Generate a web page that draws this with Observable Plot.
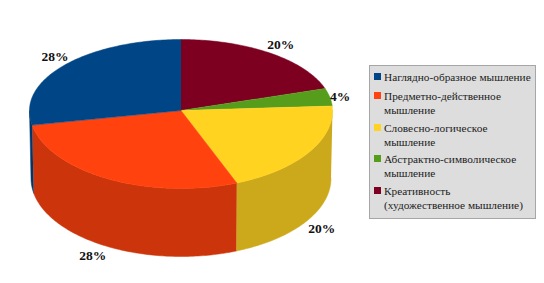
<!DOCTYPE html>
<html><head><meta charset="utf-8">
<script src="https://cdn.jsdelivr.net/npm/d3@7"></script>
<script src="https://cdn.jsdelivr.net/npm/@observablehq/plot@0.6"></script>
<style>
html,body{margin:0;padding:0;background:#fff;width:544px;height:283px;overflow:hidden}
#wrap{position:relative;width:544px;height:283px}
svg{display:block}
#legend{position:absolute;left:369px;top:65px;width:165px;height:152px;box-sizing:content-box;background:#dddddd;border:1px solid #a6a6a6;font:11.3px/14px "Liberation Serif",serif;color:#222}
#legend .it{position:absolute;left:14px;white-space:nowrap}
#legend i{position:absolute;left:-10px;top:3px;width:7px;height:7px}
</style></head><body><div id="wrap"></div>
<script>
// Chart values
const categories = ["Наглядно-образное мышление","Предметно-действенное мышление","Словесно-логическое мышление","Абстрактно-символическое мышление","Креативность (художественное мышление)"];
const legendLines = [["Наглядно-образное мышление"],["Предметно-действенное","мышление"],["Словесно-логическое","мышление"],["Абстрактно-символическое","мышление"],["Креативность","(художественное мышление)"]];
const values = [28,28,20,4,20];
const topColors = ["#004586","#ff420e","#ffd320","#579d1c","#7e0021"];
const wallColors = ["#00376b","#cc350b","#cca91a","#467e16","#650019"];
// clockwise from 12 o'clock, as drawn
const drawOrder = [4,3,2,1,0];
const labelReachX = [1.08,1.21,1.10,1.07,1.12];
const labelReachY = [1.19,1.13,1.19,1.07,1.15];

const upperTilt = 71/78, depth = 68/78;
const total = d3.sum(values);
function pt(a){
  const c = Math.cos(a), s = Math.sin(a);
  return {x:s, y:c*(c>0?upperTilt:1)};
}
const tops = [], walls = [], labels = [];
let acc = 0;
for (const i of drawOrder){
  const a0 = acc/total*2*Math.PI; acc += values[i]; const a1 = acc/total*2*Math.PI;
  const n = Math.max(8, Math.ceil((a1-a0)/(Math.PI/180)));
  const arc = d3.range(n+1).map(k=>pt(a0+(a1-a0)*k/n));
  tops.push({x:0,y:0,k:i,color:topColors[i]});
  arc.forEach(p=>tops.push({...p,k:i,color:topColors[i]}));
  const w0 = Math.max(a0,Math.PI/2), w1 = Math.min(a1,3*Math.PI/2);
  if (w1 > w0) {
    const m = Math.max(4, Math.ceil((w1-w0)/(Math.PI/180)));
    const wa = d3.range(m+1).map(k=>pt(w0+(w1-w0)*k/m));
    wa.forEach(p=>walls.push({...p,k:i,color:wallColors[i]}));
    wa.slice().reverse().forEach(p=>walls.push({x:p.x*0.99,y:p.y-depth,k:i,color:wallColors[i]}));
  }
  const mid=(a0+a1)/2, p=pt(mid), below=Math.cos(mid)<0;
  labels.push({x:p.x*labelReachX[i],y:p.y*labelReachY[i]-(below?depth:0),text:values[i]+"%"});
}
const chart = Plot.plot({
  width:544,height:283,margin:0,
  x:{domain:[-1,1],range:[29,332],axis:null},
  y:{domain:[1,-2],range:[32,266],axis:null},
  style:{background:"transparent"},
  marks:[
    Plot.line(walls,{x:"x",y:"y",z:"k",fill:"color",stroke:"color",strokeWidth:0.5,curve:"linear"}),
    Plot.line(tops,{x:"x",y:"y",z:"k",fill:"color",stroke:"color",strokeWidth:0.5,curve:"linear"}),
    Plot.text(labels,{x:"x",y:"y",text:"text",fontFamily:"Liberation Serif",fontWeight:"bold",fontSize:13.5,fill:"#111"})
  ]
});
const wrap=document.getElementById("wrap");
wrap.appendChild(chart);
const lg=document.createElement("div");lg.id="legend";
const legendTops=[4,23,55,86,118];
legendLines.forEach((ls,i)=>{
  const d=document.createElement("div");d.className="it";d.style.top=legendTops[i]+"px";
  d.innerHTML=`<i style="background:${topColors[i]}"></i>`+ls.join("<br>");
  lg.appendChild(d);
});
wrap.appendChild(lg);
</script></body></html>
